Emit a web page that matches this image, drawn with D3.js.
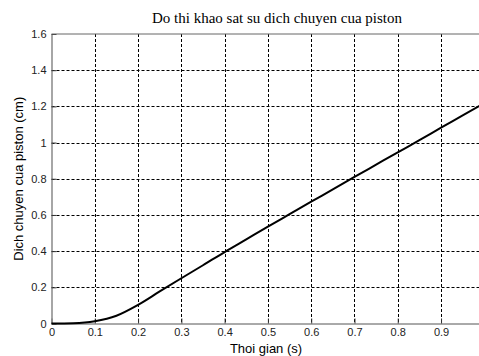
<!DOCTYPE html>
<html>
<head>
<meta charset="utf-8">
<script src="https://cdn.jsdelivr.net/npm/d3@7"></script>
<style>
    body { margin: 0; background: #fff; }
    .tick text { font-family: "Liberation Sans", Arial, sans-serif; font-size: 11px; fill: #222; }
</style>
</head>
<body>
<div class="chart"></div>
<script>
// thoi gian (s) va dich chuyen (cm) doc tu hinh
var times = [0, 0.05, 0.1, 0.15, 0.2, 0.25, 0.3, 0.35, 0.4, 0.45, 0.5,
    0.55, 0.6, 0.65, 0.7, 0.75, 0.8, 0.85, 0.9, 0.95, 0.99];
var displacement = [0, 0.002, 0.013, 0.043, 0.103, 0.177, 0.25, 0.322, 0.395, 0.465, 0.535,
    0.604, 0.673, 0.741, 0.81, 0.878, 0.946, 1.013, 1.082, 1.15, 1.205];
var xTicks = [0, 0.1, 0.2, 0.3, 0.4, 0.5, 0.6, 0.7, 0.8, 0.9];
var yTicks = [0, 0.2, 0.4, 0.6, 0.8, 1, 1.2, 1.4, 1.6];

var svgWidth = 479,
    svgHeight = 356;
// vi tri khung truc
var axLeft = 51.5,
    axTop = 34,
    axBottom = 323.5,
    axRight = 480;

var svg = d3.select('.chart')
    .append('svg')
    .attr('width', svgWidth)
    .attr('height', svgHeight);

var x = d3.scaleLinear().domain([0, 0.99]).range([axLeft, axRight]);
var y = d3.scaleLinear().domain([0, 1.6]).range([axBottom, axTop]);

// luoi
svg.append('g')
    .selectAll('line')
    .data(xTicks.slice(1))
    .enter()
    .append('line')
    .attr('x1', function(d) { return Math.round(x(d)) + 0.5; })
    .attr('x2', function(d) { return Math.round(x(d)) + 0.5; })
    .attr('y1', axTop)
    .attr('y2', axBottom)
    .style('stroke', '#000')
    .style('stroke-dasharray', '3,2');
svg.append('g')
    .selectAll('line')
    .data(yTicks.slice(1, -1))
    .enter()
    .append('line')
    .attr('x1', axLeft)
    .attr('x2', axRight)
    .attr('y1', function(d) { return Math.round(y(d)) + 0.5; })
    .attr('y2', function(d) { return Math.round(y(d)) + 0.5; })
    .style('stroke', '#000')
    .style('stroke-dasharray', '3,2');

// truc
var xAxis = d3.axisBottom(x)
    .tickValues(xTicks)
    .tickFormat(function(d) { return d; })
    .tickSizeInner(-5)
    .tickSizeOuter(0)
    .tickPadding(5);
svg.append('g')
    .attr('transform', 'translate(0,' + axBottom + ')')
    .call(xAxis)
    .call(function(g) {
        g.select('.domain').style('stroke', '#555');
        g.selectAll('.tick line').style('stroke', '#333');
    });

var yAxis = d3.axisLeft(y)
    .tickValues(yTicks)
    .tickFormat(function(d) { return d; })
    .tickSizeInner(-5)
    .tickSizeOuter(0)
    .tickPadding(5);
svg.append('g')
    .attr('transform', 'translate(' + axLeft + ',0)')
    .call(yAxis)
    .call(function(g) {
        g.select('.domain').style('stroke', '#888').style('stroke-width', 1.5);
        g.selectAll('.tick line').style('stroke', '#333');
    });

// vien tren
svg.append('line')
    .attr('x1', axLeft)
    .attr('x2', axRight)
    .attr('y1', axTop)
    .attr('y2', axTop)
    .style('stroke', '#666');

// duong cong
var line = d3.line()
    .x(function(d, i) { return x(times[i]); })
    .y(function(d) { return y(d); })
    .curve(d3.curveMonotoneX);
svg.append('path')
    .datum(displacement)
    .attr('d', line)
    .style('fill', 'none')
    .style('stroke', '#000')
    .style('stroke-width', 2);

// chu
svg.append('text')
    .attr('x', 277)
    .attr('y', 23)
    .attr('text-anchor', 'middle')
    .style('font-family', '"Liberation Serif", "Times New Roman", serif')
    .style('font-size', '15px')
    .text('Do thi khao sat su dich chuyen cua piston');

svg.append('text')
    .attr('x', 266)
    .attr('y', 353)
    .attr('text-anchor', 'middle')
    .style('font-family', '"Liberation Sans", Arial, sans-serif')
    .style('font-size', '13px')
    .text('Thoi gian (s)');

svg.append('text')
    .attr('transform', 'translate(23,' + (axTop + axBottom) / 2 + ') rotate(-90)')
    .attr('text-anchor', 'middle')
    .style('font-family', '"Liberation Sans", Arial, sans-serif')
    .style('font-size', '13px')
    .text('Dich chuyen cua piston (cm)');
</script>
</body>
</html>
